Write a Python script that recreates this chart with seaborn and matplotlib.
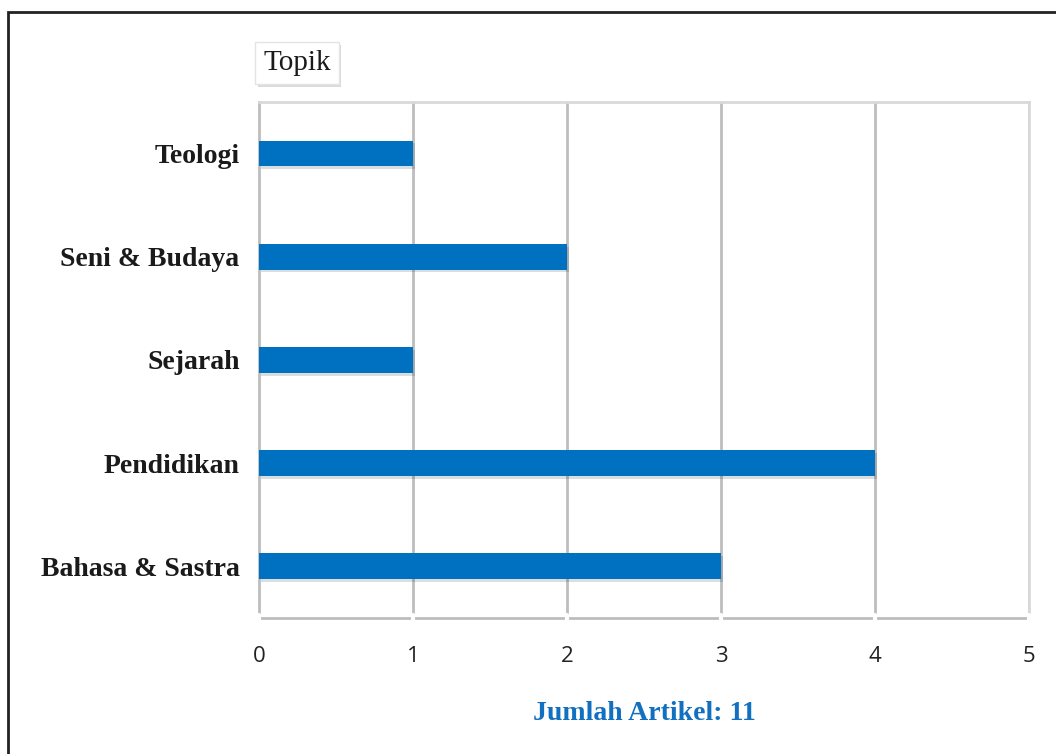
import matplotlib
matplotlib.use("Agg")
import matplotlib.pyplot as plt
import matplotlib.patheffects as pe
from matplotlib.patches import Rectangle
import seaborn as sns
import pandas as pd

# data
topics = ["Teologi", "Seni & Budaya", "Sejarah", "Pendidikan", "Bahasa & Sastra"]
counts = [1, 2, 1, 4, 3]
x_ticks = [0, 1, 2, 3, 4, 5]
total_label = "Jumlah Artikel: 11"

bar_color = "#0070C0"
grid_color = "#bdbdbd"

sns.set_style("white")

df = pd.DataFrame({"topik": topics, "jumlah": counts})

fig = plt.figure(figsize=(10.56, 7.54), dpi=100)
ax = fig.add_axes([0.2453, 0.1804, 0.7292, 0.6844])

sns.barplot(data=df, x="jumlah", y="topik", orient="h", color=bar_color,
            width=0.25, saturation=1, ax=ax, zorder=3)
for bar in ax.patches:
    bar.set_linewidth(0)
    bar.set_path_effects([pe.SimplePatchShadow(offset=(1.5, -2), alpha=0.15),
                          pe.Normal()])

ax.set_xlim(0, 5)
ax.set_ylim(len(topics) - 0.5, -0.5)
ax.autoscale(False)
ax.set_xticks(x_ticks)
ax.set_xticklabels([str(t) for t in x_ticks], fontfamily="Open Sans", fontsize=16,
                   color="#222222")
ax.tick_params(axis="x", length=0, pad=20)
ax.tick_params(axis="y", length=0, pad=14)
for lab in ax.get_yticklabels():
    lab.set_fontfamily("Liberation Serif")
    lab.set_fontweight("bold")
    lab.set_fontsize(20)
    lab.set_color("#1a1a1a")

ax.set_xlabel("")
ax.set_ylabel("")

# vertical gridlines
for t in x_ticks[1:]:
    ax.axvline(t, color=grid_color, lw=2, zorder=1)
for s in ["top", "right"]:
    ax.spines[s].set_color("#d9d9d9")
    ax.spines[s].set_linewidth(2)
for s in ["left", "bottom"]:
    ax.spines[s].set_color(grid_color)
    ax.spines[s].set_linewidth(2)

# small white gaps in the bottom axis at each tick
for t in x_ticks:
    ax.plot([t, t], [-0.006, 0.006], transform=ax.get_xaxis_transform(),
            color="white", lw=3, clip_on=False, zorder=5)

# title box
fig.text(263 / 1056, 1 - 63 / 754, "Topik", fontfamily="Liberation Serif",
         fontsize=21, va="center", ha="left", color="#1a1a1a",
         bbox=dict(boxstyle="square,pad=0.28", fc="white", ec="#e4e4e4", lw=1,
                   path_effects=[pe.SimplePatchShadow(offset=(2, -2), alpha=0.2),
                                 pe.Normal()]))

# bottom label
fig.text(644 / 1056, 1 - 713 / 754, total_label, fontfamily="Liberation Serif",
         fontweight="bold", fontsize=20, ha="center", va="center", color="#1270c0")

# outer frame (runs off the right and bottom edges)
fig.patches.append(Rectangle((7.5 / 1056, -0.05), 1.1, 1 - 11.5 / 754 + 0.05,
                             transform=fig.transFigure, fill=False,
                             ec="#222222", lw=2, clip_on=False))

fig.savefig("out.png", dpi=100)
